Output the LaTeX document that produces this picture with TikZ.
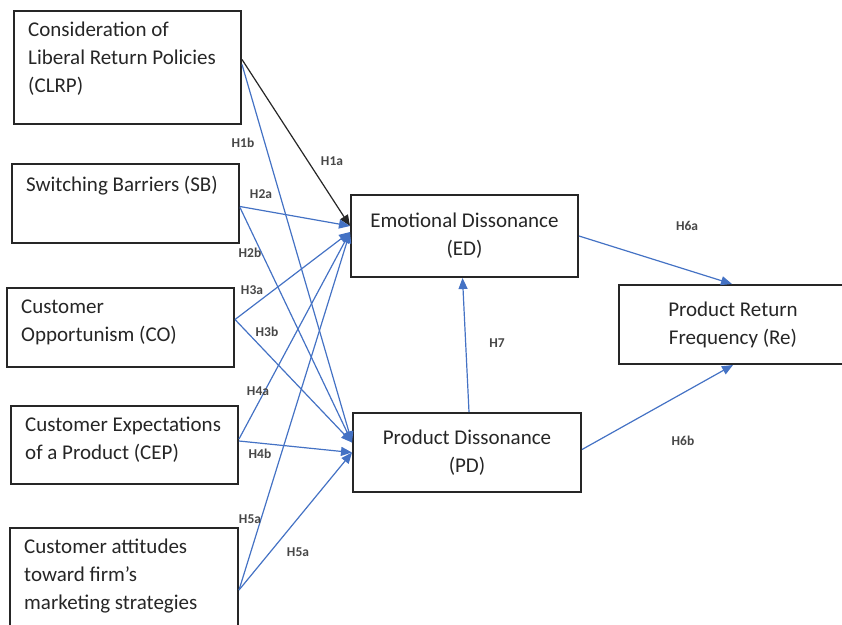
\documentclass[tikz,border=0pt]{standalone}
\usepackage{fontspec}
\setmainfont{Carlito}
\usetikzlibrary{arrows.meta, positioning}
\definecolor{blue1}{RGB}{68,114,196}
\definecolor{gray1}{RGB}{38,38,38}

\begin{document}
\begin{tikzpicture}[x=1pt, y=-1pt,
    frame/.style={draw=gray1, line width=2pt, anchor=north west, inner sep=0pt},
    midbox/.style={draw=gray1, line width=2pt, align=center, text=gray1, font=\fontsize{21}{28}\selectfont},
    boxtext/.style={align=left, inner sep=0pt, text=gray1, font=\fontsize{21}{28}\selectfont},
    hyp/.style={font=\fontsize{13.5}{15}\selectfont\bfseries, text=gray1!85, inner sep=0pt},
    link/.style={-{Triangle[length=11pt,width=9pt]}, draw=blue1, line width=1.2pt},
    darklink/.style={link, draw=gray1}
]
        \useasboundingbox (0,0) rectangle (842,624);

        % left column
        \node[frame, minimum width=227, minimum height=113] (clrp) at (13,10) {};
        \node[boxtext, below right=12pt and 15pt of clrp.north west] (clrp-t) {Consideration of\\Liberal Return Policies\\(CLRP)};

        \node[frame, minimum width=227, minimum height=79] (sb) at (11,163) {};
        \node[boxtext, below right=13pt and 15pt of sb.north west] (sb-t) {Switching Barriers (SB)};

        \node[frame, minimum width=227, minimum height=79] (co) at (6,287) {};
        \node[boxtext, below right=13pt and 15pt of co.north west] (co-t) {Customer\\Opportunism (CO)};

        \node[frame, minimum width=227, minimum height=78] (cep) at (10,405) {};
        \node[boxtext, below right=12pt and 15pt of cep.north west] (cep-t) {Customer Expectations\\of a Product (CEP)};

        \node[frame, minimum width=228, minimum height=110] (cat) at (9,527) {};
        \node[boxtext, below right=12pt and 15pt of cat.north west] (cat-t) {Customer attitudes\\toward firm’s\\marketing strategies};

        % middle and right
        \node[midbox, minimum width=227, minimum height=82] (ed) at (464.5,236) {Emotional Dissonance\\(ED)};
        \node[midbox, minimum width=228, minimum height=79] (pd) at (467,452.5) {Product Dissonance\\(PD)};
        \node[midbox, minimum width=228, minimum height=79] (re) at (733,324.5) {Product Return\\Frequency (Re)};

        % hypotheses
        \draw[darklink] ([yshift=8]clrp.east) -- ([yshift=10]ed.west);
        \draw[link] ([yshift=3]clrp.east) -- ([yshift=10]pd.west);
        \draw[link] ([yshift=-3]sb.east) -- ([yshift=10]ed.west);
        \draw[link] ([yshift=-4]sb.east) -- ([yshift=10]pd.west);
        \draw[link] ([yshift=8]co.east) -- ([yshift=4]ed.west);
        \draw[link] ([yshift=8]co.east) -- ([yshift=10]pd.west);
        \draw[link] ([yshift=6]cep.east) -- ([yshift=4]ed.west);
        \draw[link] ([yshift=4]cep.east) -- ([yshift=0]pd.west);
        \draw[link] ([yshift=-7]cat.east) -- ([yshift=4]ed.west);
        \draw[link] ([yshift=-7]cat.east) -- ([yshift=0]pd.west);

        \draw[link] (ed.east) -- ([xshift=-1]re.north);
        \draw[link] ([xshift=2]pd.north) -- ([xshift=-2]ed.south);
        \draw[link] ([yshift=3]pd.east) -- (re.south);

        \node[hyp] (h1b) at (243,143) {H1b};
        \node[hyp] (h1a) at (332,161) {H1a};
        \node[hyp] (h2a) at (261,194) {H2a};
        \node[hyp] (h2b) at (250,253) {H2b};
        \node[hyp] (h3a) at (252,290) {H3a};
        \node[hyp] (h3b) at (267,332) {H3b};
        \node[hyp] (h4a) at (258,391) {H4a};
        \node[hyp] (h4b) at (260,454) {H4b};
        \node[hyp] (h5a) at (250,519) {H5a};
        \node[hyp] (h5a-2) at (298,552) {H5a};
        \node[hyp] (h6a) at (687,226) {H6a};
        \node[hyp] (h7) at (497,343) {H7};
        \node[hyp] (h6b) at (683,441) {H6b};
\end{tikzpicture}
\end{document}
